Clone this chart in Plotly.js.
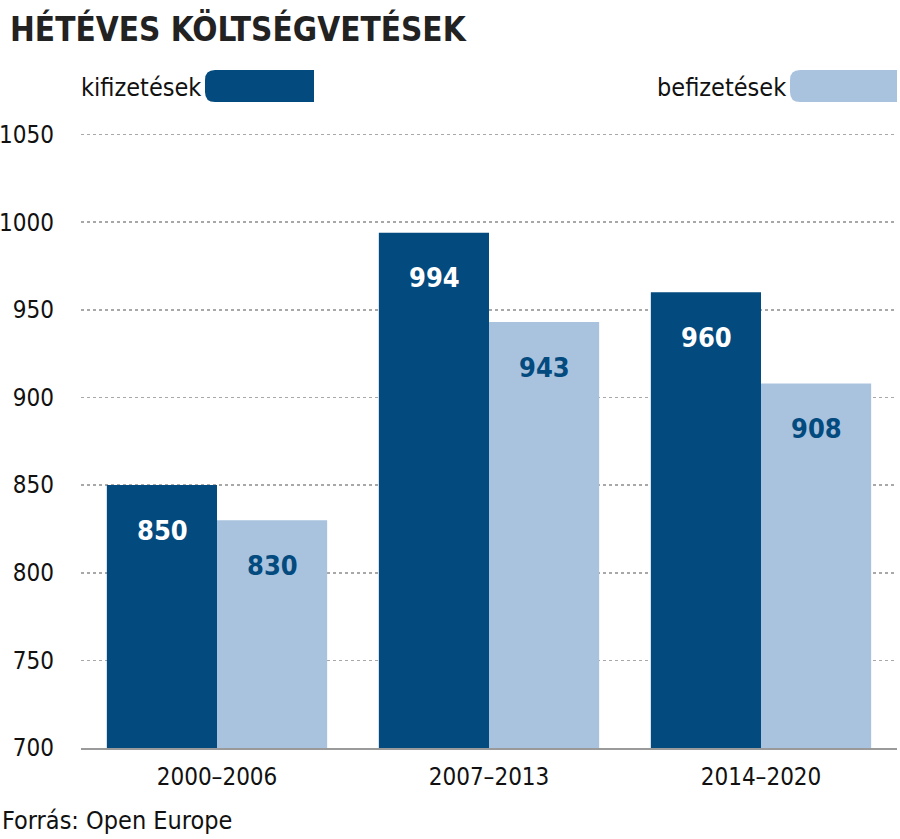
<!DOCTYPE html>
<html><head><meta charset="utf-8">
<script src="https://cdn.plot.ly/plotly-3.0.1.min.js"></script>
<style>html,body{margin:0;padding:0;background:#fff}#c{width:900px;height:839px}</style>
</head><body><div id="c"></div>
<script>
const categories = ['2000–2006', '2007–2013', '2014–2020'];
const kifizetesek = [850, 994, 960];
const befizetesek = [830, 943, 908];
const seriesNames = ['kifizetések', 'befizetések'];
const yTicks = [700, 750, 800, 850, 900, 950, 1000, 1050];

const DARK = '#034a7e', LIGHT = '#a9c3df';
const FONT = '"DejaVu Sans Condensed", "Liberation Sans Narrow", sans-serif';

const W = 900, H = 839;
const L = 81, R = 3, T = 131, B = 91;
const pw = W - L - R, ph = H - T - B;
const px = x => (x - L) / pw;
const py = y => (H - B - y) / ph;

const traces = [
  {type: 'bar', x: categories, y: kifizetesek, name: seriesNames[0], marker: {color: DARK}, hoverinfo: 'none'},
  {type: 'bar', x: categories, y: befizetesek, name: seriesNames[1], marker: {color: LIGHT}, hoverinfo: 'none'}
];

const annotations = [];
categories.forEach((c, i) => {
  annotations.push({x: c, y: kifizetesek[i], xref: 'x', yref: 'y', text: '<b>' + kifizetesek[i] + '</b>',
    showarrow: false, xshift: -55, yshift: -45, font: {family: FONT, size: 27, color: '#ffffff'}});
  annotations.push({x: c, y: befizetesek[i], xref: 'x', yref: 'y', text: '<b>' + befizetesek[i] + '</b>',
    showarrow: false, xshift: 55, yshift: -45, font: {family: FONT, size: 27, color: DARK}});
});
annotations.push({xref: 'paper', yref: 'paper', x: px(8), y: py(29), xanchor: 'left', yanchor: 'middle',
  text: '<b>HÉTÉVES KÖLTSÉGVETÉSEK</b>', showarrow: false, font: {family: FONT, size: 33, color: '#222222'}});
annotations.push({xref: 'paper', yref: 'paper', x: px(203), y: py(87), xanchor: 'right', yanchor: 'middle',
  text: seriesNames[0], showarrow: false, font: {family: FONT, size: 25, color: '#111111'}});
annotations.push({xref: 'paper', yref: 'paper', x: px(788), y: py(87), xanchor: 'right', yanchor: 'middle',
  text: seriesNames[1], showarrow: false, font: {family: FONT, size: 25, color: '#111111'}});
annotations.push({xref: 'paper', yref: 'paper', x: px(0), y: py(820), xanchor: 'left', yanchor: 'middle',
  text: 'Forrás: Open Europe', showarrow: false, font: {family: FONT, size: 25, color: '#111111'}});

function pill(x0, x1, y0, y1, r) {
  const X = v => px(v), Y = v => py(v);
  return `M ${X(x1)} ${Y(y0)} L ${X(x0 + r)} ${Y(y0)} Q ${X(x0)} ${Y(y0)} ${X(x0)} ${Y(y0 + r)} L ${X(x0)} ${Y(y1 - r)} Q ${X(x0)} ${Y(y1)} ${X(x0 + r)} ${Y(y1)} L ${X(x1)} ${Y(y1)} Z`;
}
const shapes = [
  {type: 'path', xref: 'paper', yref: 'paper', path: pill(205, 314, 70, 102, 10), fillcolor: DARK, line: {width: 0}},
  {type: 'path', xref: 'paper', yref: 'paper', path: pill(790, 897, 70, 102, 10), fillcolor: LIGHT, line: {width: 0}}
];

const layout = {
  width: W, height: H,
  margin: {l: L, r: R, t: T, b: B},
  paper_bgcolor: '#ffffff', plot_bgcolor: '#ffffff',
  barmode: 'group', bargap: 0.19, bargroupgap: 0,
  showlegend: false,
  font: {family: FONT, color: '#111111'},
  xaxis: {type: 'category', range: [-0.5, 2.5], showgrid: false, zeroline: false,
    showline: true, linecolor: '#9a9a9a', linewidth: 2, ticks: '',
    tickfont: {family: FONT, size: 24, color: '#111111'}, ticklabelstandoff: 6, fixedrange: true},
  yaxis: {range: [700, 1052], tickvals: yTicks, ticktext: yTicks.map(String), showgrid: true,
    gridcolor: '#a8a8a8', griddash: 'dot', gridwidth: 1.6, zeroline: false, showline: false, ticks: '',
    tickfont: {family: FONT, size: 24, color: '#111111'}, ticklabelstandoff: 26, fixedrange: true},
  annotations: annotations,
  shapes: shapes
};

Plotly.newPlot('c', traces, layout, {staticPlot: true, displayModeBar: false});
</script></body></html>
